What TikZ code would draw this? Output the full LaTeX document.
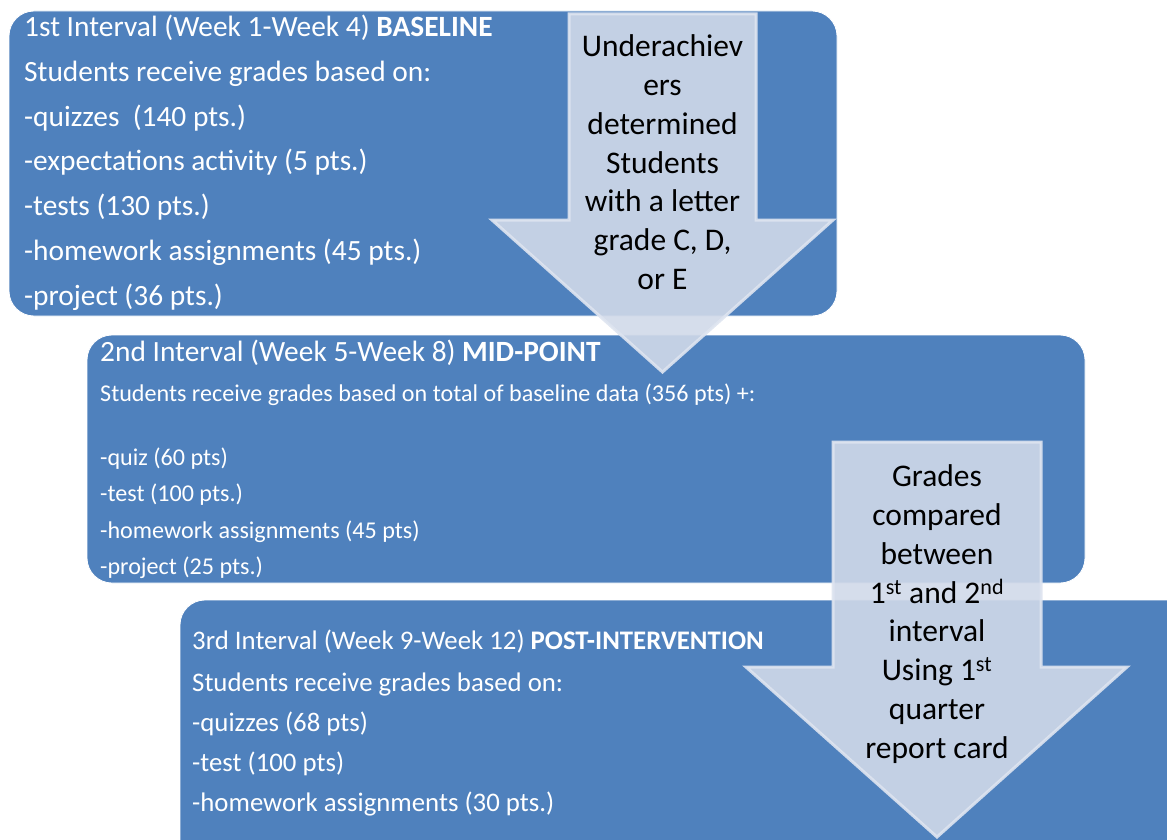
\documentclass[tikz,border=0pt]{standalone}
\usepackage{fontspec}
\setmainfont{Carlito}
\definecolor{boxblue}{RGB}{79,129,189}
\definecolor{arrfill}{RGB}{208,217,233}
\definecolor{arredge}{RGB}{222,228,240}
\begin{document}
\begin{tikzpicture}[x=1pt,y=-1pt,
  stage/.style={fill=boxblue,draw=white,line width=0.8pt,rounded corners=25pt},
  bigarrow/.style={fill=arrfill,fill opacity=0.9,draw=arredge,draw opacity=0.9,line width=3pt,line join=miter},
  txtA/.style={anchor=base west,text=white,inner sep=0pt,font=\fontsize{29.4}{34}\selectfont},
  txtB/.style={anchor=base west,text=white,inner sep=0pt,font=\fontsize{24.1}{29}\selectfont},
  txtC/.style={anchor=base west,text=white,inner sep=0pt,font=\fontsize{26.8}{32}\selectfont},
  arrtxt/.style={anchor=base,text=black,inner sep=0pt,font=\fontsize{31.5}{38}\selectfont}
]
\useasboundingbox (0,0) rectangle (1167,840);
\begin{scope}
\clip (0,0) rectangle (1167,840);
% box 1
\draw[stage] (9,11) rectangle (837,316);
\node[txtA] (b1t) at (24,36.5) {1st Interval (Week 1-Week 4) \textbf{BASELINE}};
\node[txtA] (b1a) at (24,81.3) {Students receive grades based on:};
\node[txtA] (b1b) at (24,126.1) {-quizzes\ \ (140 pts.)};
\node[txtA] (b1c) at (24,170.9) {-expectations activity (5 pts.)};
\node[txtA] (b1d) at (24,215.7) {-tests (130 pts.)};
\node[txtA] (b1e) at (24,260.5) {-homework assignments (45 pts.)};
\node[txtA] (b1f) at (24,305.3) {-project (36 pts.)};
% box 2
\draw[stage] (87,335) rectangle (1085,583);
\node[txtA] (b2t) at (100,361.5) {2nd Interval (Week 5-Week 8) \textbf{MID-POINT}};
\node[txtB] (b2a) at (100,401) {Students receive grades based on total of baseline data (356 pts) +:};
\node[txtB] (b2b) at (100,465) {-quiz (60 pts)};
\node[txtB] (b2c) at (100,501.5) {-test (100 pts.)};
\node[txtB] (b2d) at (100,538) {-homework assignments (45 pts)};
\node[txtB] (b2e) at (100,574.5) {-project (25 pts.)};
% arrow 1
\draw[bigarrow] (569,14) -- (756,14) -- (756,220) -- (833,220) -- (662.5,372) -- (492,220) -- (569,220) -- cycle;
\node[arrtxt] (a1) at (662.5,57) {Underachiev};
\node[arrtxt] (a2) at (662.5,95.7) {ers};
\node[arrtxt] (a3) at (662.5,134.4) {determined};
\node[arrtxt] (a4) at (662.5,173.1) {Students};
\node[arrtxt] (a5) at (662.5,211.8) {with a letter};
\node[arrtxt] (a6) at (662.5,250.5) {grade C, D,};
\node[arrtxt] (a7) at (662.5,289.2) {or E};
% box 3
\draw[stage] (180,600) rectangle (1192,880);
\node[txtC] (b3t) at (192,649.5) {3rd Interval (Week 9-Week 12) \textbf{POST-INTERVENTION}};
\node[txtC] (b3a) at (192,691) {Students receive grades based on:};
\node[txtC] (b3b) at (192,731) {-quizzes (68 pts)};
\node[txtC] (b3c) at (192,771.5) {-test (100 pts)};
\node[txtC] (b3d) at (192,811.5) {-homework assignments (30 pts.)};
% arrow 2
\draw[bigarrow] (833,442) -- (1041,442) -- (1041,667) -- (1127,667) -- (937,837) -- (746,667) -- (833,667) -- cycle;
\node[arrtxt] (c1) at (937,486.7) {Grades};
\node[arrtxt] (c2) at (937,525.5) {compared};
\node[arrtxt] (c3) at (937,564.3) {between};
\node[arrtxt] (c4) at (937,603.1) {1\textsuperscript{st} and 2\textsuperscript{nd}};
\node[arrtxt] (c5) at (937,641.9) {interval};
\node[arrtxt] (c6) at (937,680.7) {Using 1\textsuperscript{st}};
\node[arrtxt] (c7) at (937,719.5) {quarter};
\node[arrtxt] (c8) at (937,758.3) {report card};
\end{scope}
\end{tikzpicture}
\end{document}
